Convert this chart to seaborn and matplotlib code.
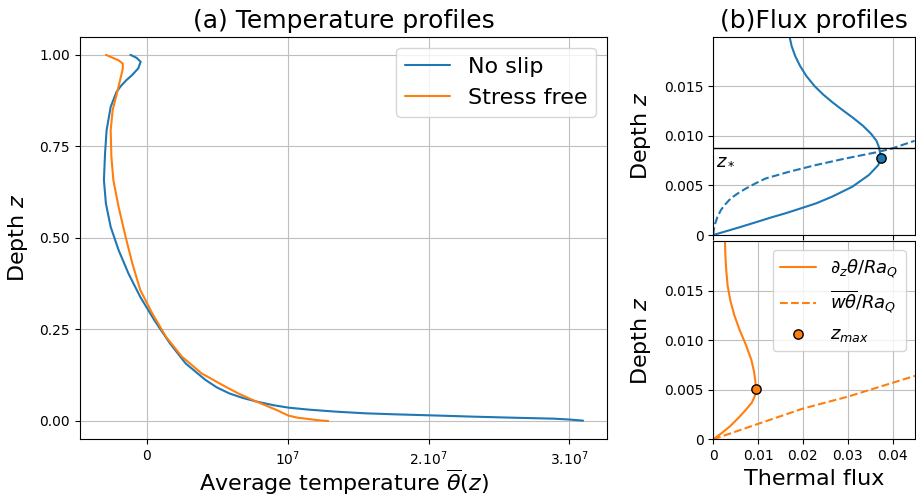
import numpy as np
import pandas as pd
import matplotlib
matplotlib.use('Agg')
import matplotlib.pyplot as plt
import seaborn as sns

# (a) average temperature profiles, temperature in units of 1e7
ns_z = [1.0, 0.992, 0.981, 0.963, 0.945, 0.931, 0.915, 0.899, 0.858, 0.794, 0.731, 0.658,
        0.594, 0.530, 0.467, 0.403, 0.339, 0.276, 0.212, 0.157, 0.112, 0.092, 0.0755,
        0.063, 0.0528, 0.043, 0.0364, 0.031, 0.0255, 0.021, 0.0182, 0.015, 0.0118,
        0.009, 0.0064, 0.004, 0.001]
ns_T = [-0.118, -0.075, -0.045, -0.062, -0.105, -0.146, -0.185, -0.216, -0.258, -0.287,
        -0.298, -0.306, -0.292, -0.258, -0.202, -0.132, -0.048, 0.051, 0.163, 0.275,
        0.416, 0.495, 0.584, 0.680, 0.781, 0.900, 1.006, 1.150, 1.343, 1.550, 1.764,
        2.050, 2.326, 2.600, 2.888, 3.000, 3.098]
sf_z = [1.0, 0.992, 0.985, 0.976, 0.962, 0.949, 0.904, 0.849, 0.794, 0.722, 0.658, 0.585,
        0.503, 0.430, 0.358, 0.294, 0.230, 0.176, 0.130, 0.094, 0.075, 0.057, 0.043,
        0.030, 0.021, 0.0146, 0.009, 0.0055, 0.002, 0.0]
sf_T = [-0.292, -0.245, -0.202, -0.172, -0.172, -0.180, -0.208, -0.244, -0.258, -0.253,
        -0.239, -0.202, -0.152, -0.104, -0.048, 0.037, 0.135, 0.247, 0.388, 0.556, 0.650,
        0.753, 0.840, 0.921, 0.970, 1.006, 1.070, 1.146, 1.220, 1.287]
temp_ticks = [0, 1, 2, 3]
temp_ticklabels = ['0', r'$10^7$', r'$2.10^7$', r'$3.10^7$']

# (b) flux profiles, no slip
ns_cond_z = [0.0, 0.00077, 0.0013, 0.00178, 0.0022, 0.00268, 0.0032, 0.00386, 0.00486,
             0.00604, 0.00704, 0.0077, 0.0080, 0.0088, 0.0095, 0.0102, 0.0110, 0.0118,
             0.0126, 0.0134, 0.0142, 0.0150, 0.0160, 0.0170, 0.0180, 0.0190, 0.0200]
ns_cond_f = [0.0, 0.00578, 0.0096, 0.0130, 0.0162, 0.0195, 0.0230, 0.0265, 0.0310,
             0.0347, 0.0368, 0.0373, 0.0373, 0.0370, 0.0364, 0.0352, 0.0334, 0.0312,
             0.0288, 0.0265, 0.0244, 0.0226, 0.0208, 0.0194, 0.0183, 0.0175, 0.0170]
ns_conv_z = [0.0, 0.0005, 0.00117, 0.0018, 0.00252, 0.0031, 0.00369, 0.0042, 0.00469,
             0.0052, 0.0057, 0.00637, 0.00704, 0.00771, 0.00838, 0.00872, 0.00949]
ns_conv_f = [0.0, 0.0001, 0.00044, 0.0009, 0.0017, 0.0027, 0.0039, 0.0055, 0.0073,
             0.0094, 0.0117, 0.0169, 0.0228, 0.0295, 0.0369, 0.0399, 0.0449]
ns_zmax = (0.0374, 0.00772)
z_star = 0.00872

# (b) flux profiles, stress free
sf_cond_z = [0.0, 0.0006, 0.0013, 0.0022, 0.0030, 0.0037, 0.0044, 0.0051, 0.0058, 0.0068,
             0.0080, 0.0095, 0.0110, 0.0125, 0.0140, 0.0155, 0.0170, 0.0185, 0.0200]
sf_cond_f = [0.0, 0.0018, 0.0037, 0.0057, 0.0073, 0.0086, 0.0093, 0.0095, 0.0094, 0.0091,
             0.0085, 0.0073, 0.0059, 0.0047, 0.0038, 0.0032, 0.0029, 0.0027, 0.0026]
sf_conv_z = [0.0, 0.00162, 0.0031, 0.0043, 0.0064]
sf_conv_f = [0.0, 0.0104, 0.0200, 0.0300, 0.0450]
sf_zmax = (0.0095, 0.00511)

flux_yticks = [0, 0.005, 0.010, 0.015]
flux_yticklabels = ['0', '0.005', '0.010', '0.015']
flux_xticks = [0, 0.01, 0.02, 0.03, 0.04]
flux_xticklabels = ['0', '0.01', '0.02', '0.03', '0.04']

blue, orange = sns.color_palette('tab10')[:2]

sns.set_style('ticks', {'axes.grid': True, 'grid.color': '0.75', 'axes.edgecolor': 'black',
                        'xtick.color': 'black', 'ytick.color': 'black',
                        'text.color': 'black', 'axes.labelcolor': 'black'})
plt.rcParams['font.family'] = ['DejaVu Sans']
plt.rcParams['xtick.labelsize'] = 10
plt.rcParams['ytick.labelsize'] = 10

fig = plt.figure(figsize=(9.16, 4.96), dpi=100)
ax_a = fig.add_axes([0.0873, 0.1143, 0.5754, 0.8121])
ax_t = fig.add_axes([0.7787, 0.5262, 0.2202, 0.4002])
ax_b = fig.add_axes([0.7787, 0.1143, 0.2202, 0.3998])

# temperature profiles
sns.lineplot(x=ns_T, y=ns_z, sort=False, estimator=None, color=blue, lw=1.5,
             label='No slip', ax=ax_a)
sns.lineplot(x=sf_T, y=sf_z, sort=False, estimator=None, color=orange, lw=1.5,
             label='Stress free', ax=ax_a)
ax_a.set_xticks(temp_ticks)
ax_a.set_xticklabels(temp_ticklabels)
ax_a.set_yticks([0, 0.25, 0.5, 0.75, 1.0])
ax_a.set_xlabel(r'Average temperature $\overline{\theta}(z)$', fontsize=16, labelpad=0)
ax_a.set_ylabel(r'Depth $z$', fontsize=16, labelpad=7)
ax_a.set_title('(a) Temperature profiles', fontsize=18)
ax_a.legend(loc='upper right', fontsize=16)

# flux profiles, no slip
sns.lineplot(x=ns_cond_f, y=ns_cond_z, sort=False, estimator=None, color=blue, lw=1.5, ax=ax_t)
sns.lineplot(x=ns_conv_f, y=ns_conv_z, sort=False, estimator=None, color=blue, lw=1.5,
             linestyle='--', ax=ax_t)
ax_t.axhline(z_star, color='black', lw=1)
ax_t.text(0.0006, 0.0077, r'$z_*$', fontsize=13, ha='left', va='center')
ax_t.scatter([ns_zmax[0]], [ns_zmax[1]], s=45, color=blue, edgecolor='black', lw=1, zorder=5)
ax_t.set_xlim(0, 0.045)
ax_t.set_ylim(0, 0.02)
ax_t.set_xticks([0, 0.02, 0.04])
ax_t.set_xticklabels([])
ax_t.set_yticks(flux_yticks)
ax_t.set_yticklabels(flux_yticklabels)
ax_t.set_ylabel(r'Depth $z$', fontsize=16, labelpad=8)
ax_t.set_title('(b)Flux profiles', fontsize=18)

# flux profiles, stress free
sns.lineplot(x=sf_cond_f, y=sf_cond_z, sort=False, estimator=None, color=orange, lw=1.5,
             label=r'$\partial_z\theta/Ra_Q$', ax=ax_b)
sns.lineplot(x=sf_conv_f, y=sf_conv_z, sort=False, estimator=None, color=orange, lw=1.5,
             linestyle='--', label=r'$\overline{w\theta}/Ra_Q$', ax=ax_b)
ax_b.scatter([sf_zmax[0]], [sf_zmax[1]], s=45, color=orange, edgecolor='black', lw=1,
             zorder=5, label=r'$z_{max}$')
ax_b.set_xlim(0, 0.045)
ax_b.set_ylim(0, 0.02)
ax_b.set_xticks(flux_xticks)
ax_b.set_xticklabels(flux_xticklabels)
ax_b.set_yticks(flux_yticks)
ax_b.set_yticklabels(flux_yticklabels)
ax_b.set_xlabel('Thermal flux', fontsize=16)
ax_b.set_ylabel(r'Depth $z$', fontsize=16, labelpad=8)
ax_b.legend(loc='upper right', fontsize=13)

for ax in (ax_a, ax_t, ax_b):
    for s in ax.spines.values():
        s.set_visible(True)
        s.set_color('black')

fig.savefig('out.png', dpi=100)
